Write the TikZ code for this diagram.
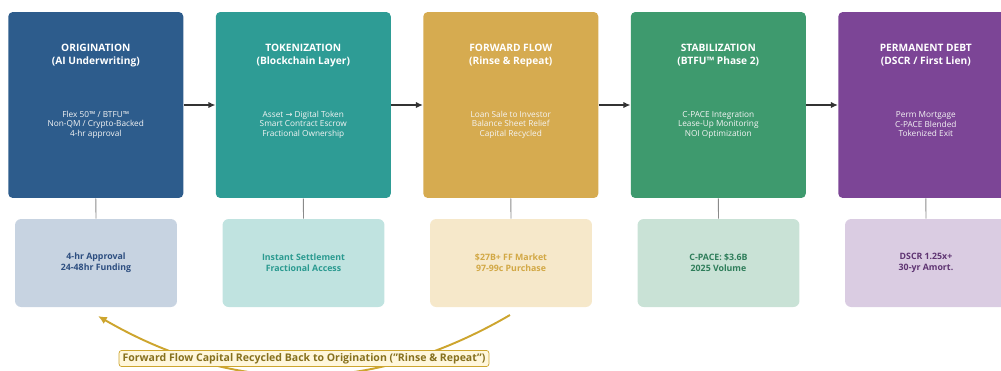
\documentclass[tikz,border=0pt]{standalone}
\usepackage{fontspec}
\setmainfont{Open Sans}
\newfontfamily\symfont{DejaVu Sans}
\usetikzlibrary{arrows.meta}
\definecolor{cA}{HTML}{2D5C8C}
\definecolor{cB}{HTML}{2E9C95}
\definecolor{cC}{HTML}{D6AB50}
\definecolor{cD}{HTML}{3E9A6E}
\definecolor{cE}{HTML}{7C4596}
\definecolor{lA}{HTML}{C7D3E1}
\definecolor{lB}{HTML}{C0E3E0}
\definecolor{lC}{HTML}{F6E8CA}
\definecolor{lD}{HTML}{C9E2D6}
\definecolor{lE}{HTML}{DACCE2}
\definecolor{tA}{HTML}{2D4E80}
\definecolor{tB}{HTML}{2A9A90}
\definecolor{tC}{HTML}{D2A845}
\definecolor{tD}{HTML}{2E7D5A}
\definecolor{tE}{HTML}{5E3472}
\definecolor{arrowgray}{HTML}{333333}
\definecolor{tiegray}{HTML}{8A8A8A}
\definecolor{gold}{HTML}{CDA52E}
\definecolor{goldtext}{HTML}{86701E}
\definecolor{goldfill}{HTML}{FFF7DC}
\tikzset{
  stage/.style={rectangle, rounded corners=2.5pt, minimum width=3.5cm, minimum height=3.72cm, inner sep=0pt},
  metric/.style={rectangle, rounded corners=3.5pt, minimum width=3.24cm, minimum height=1.76cm, inner sep=0pt, align=center, font=\fontsize{5.0}{6.2}\selectfont\bfseries},
  ttl/.style={text=white, align=center, font=\fontsize{5.8}{7.5}\selectfont\bfseries},
  bdy/.style={text=white!92!gray, align=center, font=\fontsize{4.7}{5.4}\selectfont},
  flow/.style={draw=arrowgray, line width=1.1pt, -{Latex[length=4pt,width=3.6pt]}},
  tie/.style={draw=tiegray, line width=0.5pt},
  recycle/.style={draw=gold, line width=1.1pt, -{Latex[length=5pt,width=4.5pt]}},
  recyclelabel/.style={draw=gold, fill=goldfill, line width=0.4pt, rounded corners=1.5pt, text=goldtext, inner xsep=2pt, inner ysep=1.6pt, font=\fontsize{6.0}{6.6}\selectfont\bfseries}
}
\begin{document}
\begin{tikzpicture}[x=0.02cm, y=-0.02cm]
\useasboundingbox (0,0) rectangle (1001,370);
\clip (0,0) rectangle (1001,370);

% stage boxes
\node[stage, fill=cA] (s1) at (95.8,105) {};
\node[stage, fill=cB] (s2) at (303.3,105) {};
\node[stage, fill=cC] (s3) at (510.8,105) {};
\node[stage, fill=cD] (s4) at (718.3,105) {};
\node[stage, fill=cE] (s5) at (925.8,105) {};

% titles
\node[ttl] (s1t) at (95.8,55.5) {ORIGINATION\\(AI Underwriting)};
\node[ttl] (s2t) at (303.3,55.5) {TOKENIZATION\\(Blockchain Layer)};
\node[ttl] (s3t) at (510.8,55.5) {FORWARD FLOW\\(Rinse \& Repeat)};
\node[ttl] (s4t) at (718.3,55.5) {STABILIZATION\\(BTFU™ Phase 2)};
\node[ttl] (s5t) at (925.8,55.5) {PERMANENT DEBT\\(DSCR / First Lien)};

% bodies
\node[bdy] (s1b) at (95.8,124.5) {Flex 50™ / BTFU™\\Non-QM / Crypto-Backed\\4-hr approval};
\node[bdy] (s2b) at (303.3,124.5) {Asset {\symfont →} Digital Token\\Smart Contract Escrow\\Fractional Ownership};
\node[bdy] (s3b) at (510.8,124.5) {Loan Sale to Investor\\Balance Sheet Relief\\Capital Recycled};
\node[bdy] (s4b) at (718.3,124.5) {C-PACE Integration\\Lease-Up Monitoring\\NOI Optimization};
\node[bdy] (s5b) at (925.8,124.5) {Perm Mortgage\\C-PACE Blended\\Tokenized Exit};

% metric boxes
\node[metric, fill=lA, text=tA] (m1) at (96,263) {4-hr Approval\\24-48hr Funding};
\node[metric, fill=lB, text=tB] (m2) at (303.5,263) {Instant Settlement\\Fractional Access};
\node[metric, fill=lC, text=tC] (m3) at (511,263) {\$27B+ FF Market\\97-99c Purchase};
\node[metric, fill=lD, text=tD] (m4) at (718.5,263) {C-PACE: \$3.6B\\2025 Volume};
\node[metric, fill=lE, text=tE] (m5) at (926,263) {DSCR 1.25x+\\30-yr Amort.};

% ties
\foreach \i in {1,...,5} \draw[tie] (s\i.south) -- (m\i.north);

% flow arrows
\draw[flow] (s1.east) -- (s2.west);
\draw[flow] (s2.east) -- (s3.west);
\draw[flow] (s3.east) -- (s4.west);
\draw[flow] (s4.east) -- (s5.west);

% recycle loop
\coordinate (rs) at (510,315);
\coordinate (re) at (98,316);
\draw[recycle] (rs) .. controls (372.7,395) and (235.3,395.7) .. (re);
\node[recyclelabel] (rl) at (304,358.5) {Forward Flow Capital Recycled Back to Origination (\symbol{34}Rinse \& Repeat\symbol{34})};
\end{tikzpicture}
\end{document}
